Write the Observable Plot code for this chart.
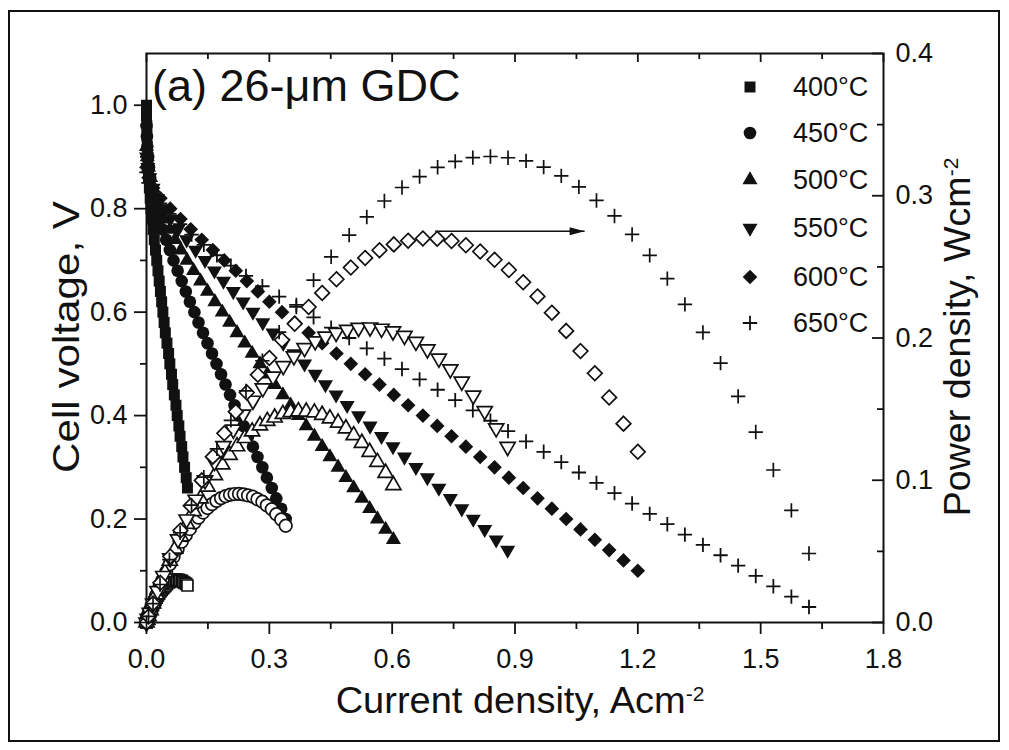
<!DOCTYPE html>
<html><head><meta charset="utf-8">
<script src="https://cdn.jsdelivr.net/npm/d3@7"></script>
<script src="https://cdn.jsdelivr.net/npm/@observablehq/plot@0.6"></script>
<style>
body{margin:0;background:#fff;}
#wrap{position:relative;width:1009px;height:750px;font-family:"Liberation Sans",Arial,sans-serif;}
#border{position:absolute;left:8px;top:10px;width:992px;height:732px;border:2px solid #111;box-sizing:border-box;}
#wrap svg{position:absolute;left:0;top:0;}
</style></head><body><div id="wrap"><div id="border"></div></div>
<script>
// ---- data ----
const temps = ["400°C","450°C","500°C","550°C","600°C","650°C"];

const V400 = [1.00,0.98,0.96,0.94,0.92,0.90,0.88,0.86,0.84,0.82,0.80,0.78,0.76,0.74,0.72,0.70,0.68,0.66,0.64,0.62,0.60,0.58,0.56,0.54,0.52,0.50,0.48,0.46,0.44,0.42,0.40,0.38,0.36,0.34,0.32,0.30,0.28,0.26];
const I400 = [0,0,0.001,0.001,0.002,0.003,0.004,0.005,0.007,0.009,0.011,0.013,0.016,0.019,0.022,0.025,0.028,0.031,0.034,0.037,0.040,0.043,0.046,0.050,0.054,0.057,0.061,0.064,0.068,0.072,0.075,0.079,0.082,0.086,0.089,0.093,0.097,0.100];
const P400 = [0,0,0.0010,0.0009,0.0018,0.0027,0.0035,0.0043,0.0059,0.0074,0.0088,0.0101,0.0122,0.0141,0.0158,0.0175,0.0190,0.0205,0.0218,0.0229,0.0240,0.0249,0.0258,0.0270,0.0281,0.0285,0.0293,0.0294,0.0299,0.0302,0.0300,0.0300,0.0295,0.0292,0.0285,0.0279,0.0272,0.0260];

const V450 = [0.96,0.94,0.92,0.90,0.88,0.86,0.84,0.82,0.80,0.78,0.76,0.74,0.72,0.70,0.68,0.66,0.64,0.62,0.60,0.58,0.56,0.54,0.52,0.50,0.48,0.46,0.44,0.42,0.40,0.38,0.36,0.34,0.32,0.30,0.28,0.26,0.24,0.22,0.20];
const I450 = [0,0.001,0.002,0.004,0.006,0.009,0.013,0.018,0.024,0.031,0.039,0.048,0.057,0.066,0.076,0.086,0.096,0.106,0.117,0.127,0.138,0.149,0.160,0.171,0.182,0.193,0.204,0.215,0.226,0.237,0.248,0.260,0.271,0.283,0.294,0.306,0.317,0.329,0.340];
const P450 = [0,0.0009,0.0018,0.0036,0.0053,0.0077,0.0109,0.0148,0.0192,0.0242,0.0296,0.0355,0.0410,0.0462,0.0517,0.0568,0.0614,0.0657,0.0702,0.0737,0.0773,0.0805,0.0832,0.0855,0.0874,0.0888,0.0898,0.0903,0.0904,0.0901,0.0893,0.0884,0.0867,0.0849,0.0823,0.0796,0.0761,0.0724,0.0680];

const V500 = [0.92,0.90,0.88,0.86,0.84,0.82,0.80,0.78,0.76,0.74,0.72,0.70,0.68,0.66,0.64,0.62,0.60,0.58,0.56,0.54,0.52,0.50,0.48,0.46,0.44,0.42,0.40,0.38,0.36,0.34,0.32,0.30,0.28,0.26,0.24,0.22,0.20,0.18,0.16];
const I500 = [0,0.002,0.005,0.010,0.016,0.024,0.034,0.045,0.057,0.070,0.084,0.099,0.115,0.132,0.149,0.167,0.185,0.203,0.221,0.240,0.258,0.277,0.295,0.313,0.333,0.352,0.371,0.390,0.410,0.429,0.448,0.468,0.487,0.506,0.526,0.545,0.564,0.584,0.603];
const P500 = [0,0.0018,0.0044,0.0086,0.0134,0.0197,0.0272,0.0351,0.0433,0.0518,0.0605,0.0693,0.0782,0.0871,0.0954,0.1035,0.1110,0.1177,0.1238,0.1296,0.1342,0.1385,0.1416,0.1440,0.1465,0.1478,0.1484,0.1482,0.1476,0.1459,0.1434,0.1404,0.1364,0.1316,0.1262,0.1199,0.1128,0.1051,0.0965];

const V550 = [0.90,0.88,0.86,0.84,0.82,0.80,0.78,0.76,0.74,0.72,0.70,0.68,0.66,0.64,0.62,0.60,0.58,0.56,0.54,0.52,0.50,0.48,0.46,0.44,0.42,0.40,0.38,0.36,0.34,0.32,0.30,0.28,0.26,0.24,0.22,0.20,0.18,0.16,0.14];
const I550 = [0,0.003,0.008,0.016,0.027,0.041,0.058,0.077,0.098,0.120,0.143,0.166,0.188,0.212,0.236,0.260,0.284,0.309,0.334,0.360,0.386,0.412,0.437,0.463,0.490,0.518,0.546,0.574,0.602,0.630,0.658,0.686,0.714,0.742,0.770,0.798,0.826,0.854,0.882];
const P550 = [0,0.0026,0.0069,0.0134,0.0221,0.0328,0.0452,0.0585,0.0725,0.0864,0.1001,0.1129,0.1241,0.1357,0.1463,0.1560,0.1647,0.1730,0.1804,0.1872,0.1930,0.1978,0.2010,0.2037,0.2058,0.2072,0.2075,0.2066,0.2047,0.2016,0.1974,0.1921,0.1856,0.1781,0.1694,0.1596,0.1487,0.1366,0.1235];

const V600 = [0.88,0.86,0.84,0.82,0.80,0.78,0.76,0.74,0.72,0.70,0.68,0.66,0.64,0.62,0.60,0.58,0.56,0.54,0.52,0.50,0.48,0.46,0.44,0.42,0.40,0.38,0.36,0.34,0.32,0.30,0.28,0.26,0.24,0.22,0.20,0.18,0.16,0.14,0.12,0.10];
const I600 = [0,0.005,0.016,0.034,0.058,0.083,0.108,0.135,0.162,0.190,0.218,0.245,0.272,0.300,0.331,0.362,0.396,0.429,0.464,0.499,0.534,0.569,0.604,0.639,0.675,0.710,0.745,0.780,0.815,0.850,0.885,0.920,0.955,0.990,1.025,1.060,1.095,1.130,1.165,1.200];
const P600 = [0,0.0043,0.0134,0.0279,0.0464,0.0647,0.0821,0.0999,0.1166,0.1330,0.1482,0.1617,0.1741,0.1860,0.1986,0.2100,0.2218,0.2317,0.2413,0.2495,0.2563,0.2617,0.2658,0.2684,0.2700,0.2698,0.2682,0.2652,0.2608,0.2550,0.2478,0.2392,0.2292,0.2178,0.2050,0.1908,0.1752,0.1582,0.1398,0.1200];

const V650 = [0.87,0.85,0.83,0.81,0.79,0.77,0.75,0.73,0.71,0.69,0.67,0.65,0.63,0.61,0.59,0.57,0.55,0.53,0.51,0.49,0.47,0.45,0.43,0.41,0.39,0.37,0.35,0.33,0.31,0.29,0.27,0.25,0.23,0.21,0.19,0.17,0.15,0.13,0.11,0.09,0.07,0.05,0.03];
const I650 = [0,0.005,0.016,0.033,0.056,0.082,0.110,0.140,0.172,0.206,0.243,0.283,0.324,0.366,0.408,0.451,0.495,0.538,0.581,0.624,0.667,0.711,0.754,0.797,0.840,0.883,0.927,0.970,1.013,1.056,1.099,1.143,1.186,1.229,1.272,1.315,1.359,1.402,1.445,1.488,1.531,1.575,1.618];
const P650 = [0,0.0043,0.0133,0.0267,0.0442,0.0631,0.0825,0.1022,0.1221,0.1421,0.1628,0.1840,0.2041,0.2233,0.2407,0.2571,0.2723,0.2851,0.2963,0.3058,0.3135,0.3200,0.3242,0.3268,0.3276,0.3267,0.3245,0.3201,0.3140,0.3062,0.2967,0.2858,0.2728,0.2581,0.2417,0.2236,0.2039,0.1823,0.1590,0.1339,0.1072,0.0788,0.0485];

const xMajor = [0,0.3,0.6,0.9,1.2,1.5,1.8];
const xMinor = [0.15,0.45,0.75,1.05,1.35,1.65];
const vMajor = [0,0.2,0.4,0.6,0.8,1.0];
const vMinor = [0.1,0.3,0.5,0.7,0.9];
const pMajor = [0,0.1,0.2,0.3,0.4];
const pMinor = [0.05,0.15,0.25,0.35];
const arrowI = [0.705, 1.07];
const arrowP = 0.275;

// ---- styling ----
const symbols = ["square","circle","triangle","triangle","diamond2","plus"];
const rotations = [0,0,0,180,0,0];
const radii = [6.2,6.3,5.6,5.6,6.6,4.7];
const FONT = "'Liberation Sans', Arial, Helvetica, sans-serif";
const INK = "#111";

const series = [[I400,V400,P400],[I450,V450,P450],[I500,V500,P500],[I550,V550,P550],[I600,V600,P600],[I650,V650,P650]];
const rows = series.flatMap(([I,V,P],k) => I.map((c,i) => ({k, I:c, V:V[i], P:P[i]})));

const W = 1009, H = 750, ML = 146, MR = 126, MT = 53, MB = 128;
const FW = W - ML - MR, FH = H - MT - MB;
const common = {width: W, height: H, marginLeft: ML, marginRight: MR, marginTop: MT, marginBottom: MB,
  style: {fontFamily: FONT, background: "transparent", color: INK}};
const f1 = d3.format(".1f");
const none = () => "";

const vMarks = series.map((s,k) => Plot.dot(rows.filter(d => d.k === k), {
  x: "I", y: "V", symbol: symbols[k], r: radii[k], rotate: rotations[k],
  fill: k === 5 ? "none" : INK, stroke: k === 5 ? INK : "none", strokeWidth: 1.8
}));
const pMarks = series.map((s,k) => Plot.dot(rows.filter(d => d.k === k), {
  x: "I", y: "P", symbol: symbols[k], r: radii[k], rotate: rotations[k],
  fill: k === 5 ? "none" : "#fff", stroke: INK, strokeWidth: 1.7
}));

const main = Plot.plot({...common,
  x: {domain: [0, 1.8]},
  y: {domain: [0, 1.1]},
  marks: [
    ...vMarks,
    Plot.axisX({anchor: "bottom", ticks: xMajor, tickSize: 12, tickPadding: 14, tickFormat: f1, fontSize: 27, label: null, strokeWidth: 1.8}),
    Plot.axisX({anchor: "bottom", ticks: xMinor, tickSize: 7, tickFormat: none, label: null, strokeWidth: 1.8}),
    Plot.ruleX(xMajor, {x: d => d, insetBottom: FH - 9, stroke: INK, strokeWidth: 1.8}),
    Plot.ruleX(xMinor, {x: d => d, insetBottom: FH - 6, stroke: INK, strokeWidth: 1.8}),
    Plot.axisY({anchor: "left", ticks: vMajor, tickSize: 12, tickPadding: 7, tickFormat: f1, fontSize: 27, label: null, strokeWidth: 1.8}),
    Plot.axisY({anchor: "left", ticks: vMinor, tickSize: 6, tickFormat: none, label: null, strokeWidth: 1.8}),
    Plot.frame({stroke: INK, strokeWidth: 2})
  ]
});

const arrowHead = {draw(ctx, size) { const l = 15, w = 4; ctx.moveTo(0,0); ctx.lineTo(-l,-w); ctx.lineTo(-l,w); ctx.closePath(); }};

const over = Plot.plot({...common,
  x: {domain: [0, 1.8], axis: null},
  y: {domain: [0, 0.4]},
  marks: [
    ...pMarks,
    Plot.link([arrowP], {x1: () => arrowI[0], x2: () => arrowI[1], y1: d => d, y2: d => d, stroke: INK, strokeWidth: 1.5}),
    Plot.dot([arrowP], {x: () => arrowI[1], y: d => d, symbol: arrowHead, r: 5, fill: INK, stroke: "none"}),
    Plot.ruleY(pMajor, {y: d => d, insetLeft: FW - 11, stroke: INK, strokeWidth: 1.8}),
    Plot.ruleY(pMinor, {y: d => d, insetLeft: FW - 6, stroke: INK, strokeWidth: 1.8}),
    Plot.axisY({anchor: "right", ticks: pMajor, tickSize: 0, tickPadding: 12, tickFormat: f1, fontSize: 27, label: null})
  ]
});

const wrap = document.getElementById("wrap");
wrap.appendChild(main);
wrap.appendChild(over);

// ---- titles, annotation, legend ----
const svg = d3.select(over);
const g = svg.append("g").attr("font-family", FONT).attr("fill", INK).attr("text-anchor", "start");

g.append("text").attr("x", 152).attr("y", 101).attr("text-anchor", "start").attr("font-size", 45).text("(a) 26-μm GDC");

g.append("text").attr("transform", "translate(66,337) rotate(-90)").attr("text-anchor", "middle").attr("dy", "0.35em")
  .attr("font-size", 36).attr("textLength", 272).attr("lengthAdjust", "spacingAndGlyphs").text("Cell voltage, V");

const rt = g.append("text").attr("transform", "translate(957,337) rotate(-90)").attr("text-anchor", "middle").attr("dy", "0.35em").attr("font-size", 36);
rt.append("tspan").attr("textLength", 340).attr("lengthAdjust", "spacingAndGlyphs").text("Power density, Wcm");
rt.append("tspan").attr("dy", "-0.55em").attr("font-size", 21).text("-2");

const bt = g.append("text").attr("x", 520).attr("y", 713).attr("text-anchor", "middle").attr("font-size", 36);
bt.append("tspan").attr("textLength", 350).attr("lengthAdjust", "spacingAndGlyphs").text("Current density, Acm");
bt.append("tspan").attr("dy", "-0.55em").attr("font-size", 21).text("-2");

const legY = [87, 133, 180, 228, 277, 323];
const d3sym = {square: d3.symbolSquare, circle: d3.symbolCircle, triangle: d3.symbolTriangle, diamond2: d3.symbolDiamond2, plus: d3.symbolPlus};
temps.forEach((t, k) => {
  const gg = g.append("g").attr("transform", `translate(750,${legY[k]})`);
  gg.append("path").attr("d", d3.symbol(d3sym[symbols[k]], Math.PI * radii[k] * radii[k])())
    .attr("transform", `rotate(${rotations[k]})`)
    .attr("fill", k === 5 ? "none" : INK).attr("stroke", k === 5 ? INK : "none").attr("stroke-width", 1.8);
  g.append("text").attr("x", 793).attr("y", legY[k]).attr("dy", "0.35em").attr("text-anchor", "start").attr("font-size", 27).text(t);
});
</script></body></html>
